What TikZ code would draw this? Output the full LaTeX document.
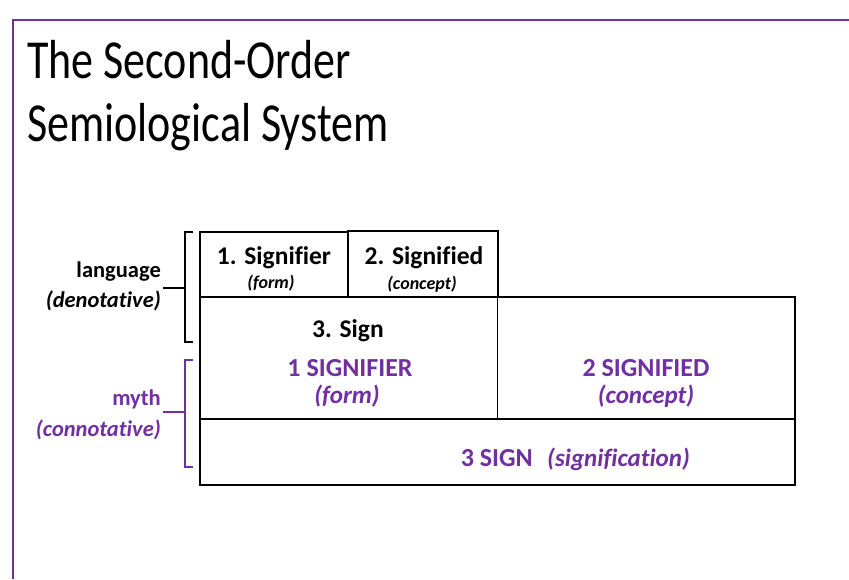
\documentclass[tikz,border=0pt]{standalone}
\usepackage{fontspec}
\setmainfont{Carlito}[Ligatures=NoCommon]
\definecolor{mythpurple}{HTML}{7030A0}
\newcommand{\talltext}[1]{\scalebox{1}[1.25]{#1}}
\begin{document}
\begin{tikzpicture}[x=1pt,y=-1pt,
  cell/.style={draw=black, line width=1.8pt, inner sep=0pt},
  brace/.style={line width=2pt},
  title/.style={font=\fontsize{44}{52}\selectfont, anchor=base west, inner sep=0pt},
  head/.style={font=\fontsize{25.5}{30}\selectfont\bfseries, anchor=base, inner sep=0pt},
  sub/.style={font=\fontsize{18}{22}\selectfont\bfseries\itshape, anchor=base, inner sep=0pt},
  mythcap/.style={font=\fontsize{26}{30}\selectfont\bfseries, text=mythpurple, anchor=base, inner sep=0pt},
  mythsub/.style={font=\fontsize{25}{30}\selectfont\bfseries\itshape, text=mythpurple, anchor=base, inner sep=0pt},
  side/.style={font=\fontsize{22.5}{26}\selectfont\bfseries, anchor=base east, inner sep=0pt},
  sideit/.style={side, font=\fontsize{22.5}{26}\selectfont\bfseries\itshape}]
\useasboundingbox (0,0) rectangle (849,579);
\fill[white] (0,0) rectangle (849,579);

% slide frame
\draw[mythpurple, line width=2.5pt] (12,20) -- (849,20);
\draw[mythpurple, line width=1.8pt] (13,20) -- (13,579);

% title
\node[title] (t1) at (27,78) {\talltext{The Second-Order}};
\node[title] (t2) at (27,141) {\talltext{Semiological System}};

% first-order boxes
\node[cell, minimum width=148pt, minimum height=65pt] (sig1) at (274,264.5) {};
\node[cell, minimum width=150pt, minimum height=66pt] (sd1) at (423,264) {};
% second-order boxes
\node[cell, minimum width=595pt, minimum height=122pt] (mid) at (497.5,358) {};
\node[cell, minimum width=595pt, minimum height=66pt] (bot) at (497.5,452) {};
\draw[line width=1.8pt] (mid.north) -- (mid.south);

% first-order labels
\node[head] (l1) at (274,264) {1. Signifier};
\node[sub] (l1s) at (271,288) {(form)};
\node[head] (l2) at (424,264) {2. Signified};
\node[sub] (l2s) at (422,289) {(concept)};
\node[head] (l3) at (348,337) {3. Sign};

% second-order labels
\node[mythcap] (m1) at (350,376) {1 SIGNIFIER};
\node[mythsub] (m1s) at (347,403) {(form)};
\node[mythcap] (m2) at (646,376) {2 SIGNIFIED};
\node[mythsub] (m2s) at (646,403) {(concept)};
\node[mythcap, anchor=base east] (m3) at (533,466) {3 SIGN};
\node[mythsub, anchor=base west] (m3s) at (547,466) {(signification)};

% side labels
\node[side] (lang) at (161,277) {language};
\node[sideit] (den) at (161,307) {(denotative)};
\node[side, text=mythpurple] (myth) at (161,405) {myth};
\node[sideit, text=mythpurple] (con) at (161,436) {(connotative)};

% braces
\coordinate (bl) at (185,288);
\draw[brace] (193,232) -- (185,232) -- (185,342) -- (193,342);
\draw[brace] (163,288) -- (bl);
\coordinate (ml) at (185,412);
\draw[brace, mythpurple] (193,360) -- (185,360) -- (185,467) -- (193,467);
\draw[brace, mythpurple] (163,412) -- (ml);
\end{tikzpicture}
\end{document}
